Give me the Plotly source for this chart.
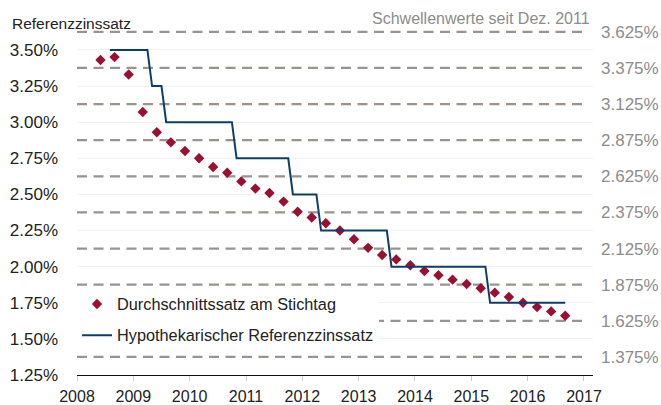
import plotly.graph_objects as go

# Durchschnittssatz am Stichtag (quarterly)
avg_dates = [2008.417, 2008.667, 2008.917, 2009.167, 2009.417, 2009.667, 2009.917,
             2010.167, 2010.417, 2010.667, 2010.917, 2011.167, 2011.417, 2011.667,
             2011.917, 2012.167, 2012.417, 2012.667, 2012.917, 2013.167, 2013.417,
             2013.667, 2013.917, 2014.167, 2014.417, 2014.667, 2014.917, 2015.167,
             2015.417, 2015.667, 2015.917, 2016.167, 2016.417, 2016.667]
avg_rate = [3.43, 3.45, 3.33, 3.07, 2.93, 2.86, 2.80, 2.75, 2.69, 2.65, 2.59, 2.54,
            2.51, 2.45, 2.38, 2.34, 2.30, 2.25, 2.19, 2.13, 2.08, 2.05, 2.01, 1.97,
            1.94, 1.91, 1.88, 1.85, 1.82, 1.79, 1.75, 1.72, 1.69, 1.66]

# Hypothekarischer Referenzzinssatz (level start/end points)
ref_dates = [2008.583, 2009.25, 2009.333, 2009.5, 2009.583, 2010.75, 2010.833,
             2011.75, 2011.833, 2012.25, 2012.333, 2013.5, 2013.583, 2015.25,
             2015.333, 2016.667]
ref_rate = [3.50, 3.50, 3.25, 3.25, 3.00, 3.00, 2.75, 2.75, 2.50, 2.50, 2.25,
            2.25, 2.00, 2.00, 1.75, 1.75]

# Schwellenwerte seit Dez. 2011
thresholds = [3.625, 3.375, 3.125, 2.875, 2.625, 2.375, 2.125, 1.875, 1.625, 1.375]
threshold_labels = ["3.625%", "3.375%", "3.125%", "2.875%", "2.625%", "2.375%",
                    "2.125%", "1.875%", "1.625%", "1.375%"]

left_ticks = [1.25, 1.50, 1.75, 2.00, 2.25, 2.50, 2.75, 3.00, 3.25, 3.50]
left_labels = ["1.25%", "1.50%", "1.75%", "2.00%", "2.25%", "2.50%", "2.75%",
               "3.00%", "3.25%", "3.50%"]
years = list(range(2008, 2018))

FONT = "Liberation Sans, Arial, sans-serif"
YR = [1.25, 3.70]

fig = go.Figure()

fig.add_trace(go.Scatter(
    x=avg_dates, y=avg_rate, mode="markers", name="Durchschnittssatz am Stichtag",
    marker=dict(symbol="diamond", size=8, color="#9b0f33"),
    legendgroup="a"))
fig.add_trace(go.Scatter(
    x=ref_dates, y=ref_rate, mode="lines", name="Hypothekarischer Referenzzinssatz",
    line=dict(color="#0e3d6b", width=2), legendgroup="b"))
# invisible trace to activate the right axis
fig.add_trace(go.Scatter(x=[2008], y=[2], yaxis="y2", mode="markers",
                         marker=dict(opacity=0), showlegend=False, hoverinfo="skip"))

for t in thresholds:
    fig.add_shape(type="line", xref="x", yref="y", x0=2008, x1=2017.05, y0=t, y1=t,
                  line=dict(color="#9b938c", width=2.2, dash="10px,6.5px"), layer="below")

fig.update_layout(
    template="none",
    width=661, height=405,
    margin=dict(l=77, r=68, t=21, b=30, autoexpand=False),
    paper_bgcolor="white", plot_bgcolor="white",
    font=dict(family=FONT, size=16, color="#222"),
    showlegend=True,
    legend=dict(x=0, y=0.249, xanchor="left", yanchor="top",
                bgcolor="white", borderwidth=0, tracegroupgap=7,
                entrywidth=270, entrywidthmode="pixels",
                traceorder="grouped", font=dict(size=16.3, color="#222")),
    xaxis=dict(range=[2008, 2017.16], tickvals=years, ticktext=[str(y) for y in years],
               showgrid=False, zeroline=False, showline=True, linecolor="#111",
               linewidth=1, ticks="outside", ticklen=5, tickcolor="#cccccc",
               tickfont=dict(size=16, color="#222"), ticklabelstandoff=2,
               automargin=False),
    yaxis=dict(range=YR, tickvals=left_ticks, ticktext=left_labels,
               showgrid=True, gridcolor="#f1f1f1", gridwidth=1, zeroline=False,
               showline=False, ticks="", tickfont=dict(size=17, color="#222"),
               ticklabelstandoff=18, automargin=False),
    yaxis2=dict(range=YR, overlaying="y", side="right", tickvals=thresholds,
                ticktext=threshold_labels, showgrid=False, zeroline=False,
                showline=False, ticks="", tickfont=dict(size=17, color="#8c8c8c"),
                ticklabelstandoff=7, automargin=False),
    annotations=[
        dict(text="Referenzzinssatz", xref="paper", yref="paper", x=-77/516,
             y=1, xanchor="left", yanchor="middle",
             showarrow=False, font=dict(size=15.5, color="#222"),
             xshift=10, yshift=-2),
        dict(text="Schwellenwerte seit Dez. 2011", xref="paper", yref="paper",
             x=(592 - 77) / 516, y=1, xanchor="right", yanchor="middle",
             showarrow=False, font=dict(size=16, color="#8c8c8c"), yshift=3),
    ],
)

fig.write_html("out.html",
               config={"displayModeBar": False},
               post_script="document.body.style.margin='0';document.body.style.overflow='hidden';")
